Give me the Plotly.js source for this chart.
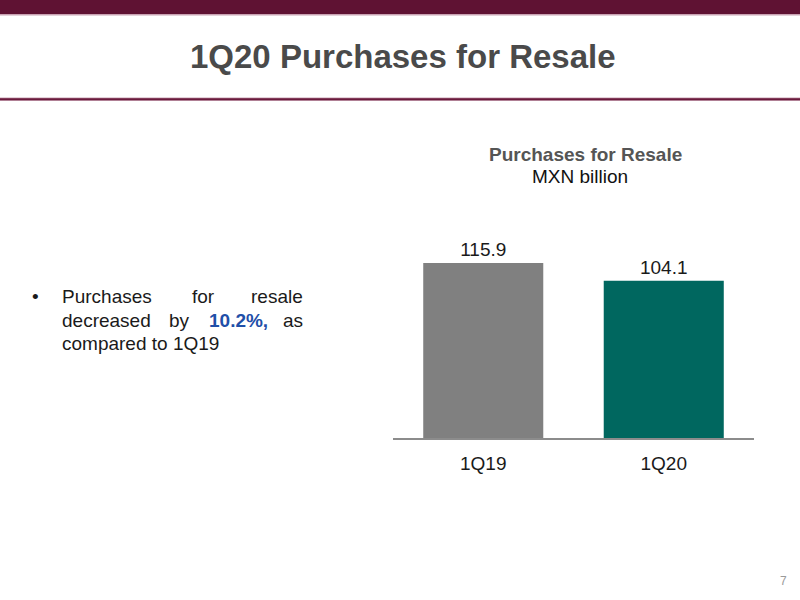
<!DOCTYPE html>
<html>
<head>
<meta charset="utf-8">
<script src="https://cdn.plot.ly/plotly-3.0.1.min.js"></script>
<style>
  body { margin: 0; background: #fff; }
  #chart { width: 800px; height: 600px; }
</style>
</head>
<body>
<div id="chart"></div>
<script>
// Purchases for resale, MXN billion
const quarters = ['1Q19', '1Q20'];
const purchases = [115.9, 104.1];
const barColors = ['#808080', '#00675f'];

const W = 800, H = 600;
// pixel helpers for paper coords
function px(x) { return x / W; }
function py(y) { return 1 - y / H; }

const trace = {
    type: 'bar',
    x: quarters,
    y: purchases,
    marker: { color: barColors, line: { width: 0 } },
    text: purchases.map(v => v.toFixed(1)),
    textposition: 'outside',
    textfont: { family: 'Liberation Sans, Arial, sans-serif', size: 19, color: '#1a1a1a' },
    cliponaxis: false,
    hoverinfo: 'none'
};

const textFont = 'Liberation Sans, Arial, sans-serif';

function note(text, x, y, opts) {
    return Object.assign({
        text: text,
        xref: 'paper', yref: 'paper',
        x: px(x), y: py(y),
        xanchor: 'left', yanchor: 'middle',
        showarrow: false,
        font: { family: textFont, size: 19, color: '#1a1a1a' }
    }, opts || {});
}

const annotations = [
    note('<b>1Q20 Purchases for Resale</b>', 403, 57, {
        xanchor: 'center',
        font: { family: textFont, size: 33, color: '#4a4a4a' }
    }),
    note('<b>Purchases for Resale</b>', 585, 155, {
        xanchor: 'center',
        font: { family: textFont, size: 19, color: '#555555' }
    }),
    note('MXN billion', 580, 177, { xanchor: 'center', font: { family: textFont, size: 19, color: '#111111' } }),
    // bullet, justified by hand word by word
    note('•', 30, 296),
    note('Purchases', 60, 296),
    note('for', 190, 296),
    note('resale', 305, 296, { xanchor: 'right' }),
    note('decreased', 60, 320),
    note('by', 167, 320),
    note('<b>10.2%,</b>', 207, 320, { font: { family: textFont, size: 19, color: '#1f4fa8' } }),
    note('as', 305, 320, { xanchor: 'right' }),
    note('compared to 1Q19', 60, 343),
    note('7', 783, 581, { xanchor: 'center', font: { family: textFont, size: 12, color: '#9a9a9a' } })
];

const shapes = [
    { type: 'rect', xref: 'paper', yref: 'paper', x0: 0, x1: 1, y0: py(14), y1: 1,
      fillcolor: '#5f1233', line: { width: 0 } },
    { type: 'rect', xref: 'paper', yref: 'paper', x0: 0, x1: 1, y0: py(15.5), y1: py(14),
      fillcolor: '#c9a3b3', line: { width: 0 } },
    { type: 'rect', xref: 'paper', yref: 'paper', x0: 0, x1: 1, y0: py(101), y1: py(97.5),
      fillcolor: '#c9a3b3', line: { width: 0 } },
    { type: 'rect', xref: 'paper', yref: 'paper', x0: 0, x1: 1, y0: py(100.3), y1: py(98.2),
      fillcolor: '#6a1a3c', line: { width: 0 } }
];

const layout = {
    width: W,
    height: H,
    margin: { l: 0, r: 0, t: 0, b: 0 },
    paper_bgcolor: '#ffffff',
    plot_bgcolor: '#ffffff',
    showlegend: false,
    bargap: 0.335,
    xaxis: {
        type: 'category',
        domain: [px(393), px(754)],
        showline: true,
        linecolor: '#8c8c8c',
        linewidth: 2,
        ticks: '',
        ticklabelstandoff: 7,
        showgrid: false,
        zeroline: false,
        tickfont: { family: textFont, size: 19, color: '#1a1a1a' },
        fixedrange: true
    },
    yaxis: {
        domain: [py(438), py(238)],
        range: [0, 132.46],
        visible: false,
        showgrid: false,
        zeroline: false,
        fixedrange: true
    },
    annotations: annotations,
    shapes: shapes
};

Plotly.newPlot('chart', [trace], layout, { displayModeBar: false, staticPlot: true });
</script>
</body>
</html>
